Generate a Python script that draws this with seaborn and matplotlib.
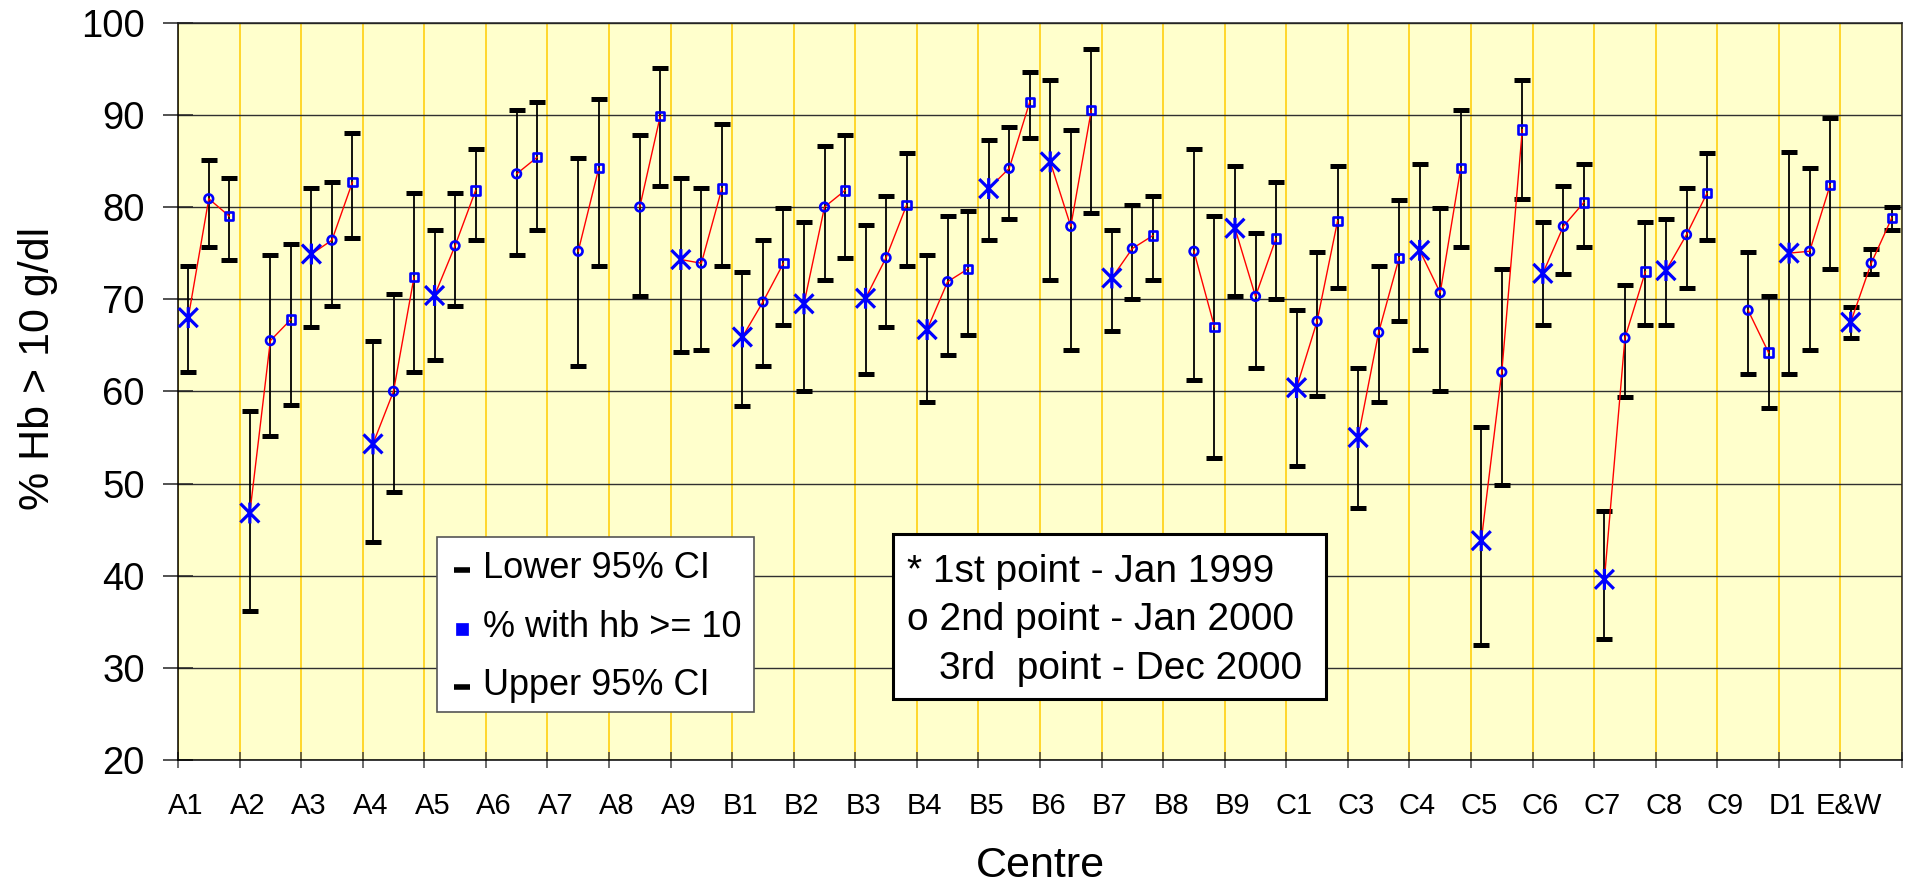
import numpy as np
import pandas as pd
import matplotlib
matplotlib.use("Agg")
import matplotlib.pyplot as plt
from matplotlib.path import Path
from matplotlib.patches import Rectangle
import seaborn as sns

nan = np.nan

centres = ['A1', 'A2', 'A3', 'A4', 'A5', 'A6', 'A7', 'A8', 'A9', 'B1', 'B2', 'B3',
           'B4', 'B5', 'B6', 'B7', 'B8', 'B9', 'C1', 'C3', 'C4', 'C5', 'C6', 'C7',
           'C8', 'C9', 'D1', 'E&W']

# 1st point - Jan 1999
pct_jan1999 = [68.0, 46.8, 74.9, 54.3, 70.4, nan, nan, nan, 74.3, 65.9, 69.5, 70.1,
               66.7, 82.0, 84.9, 72.3, nan, 77.7, 60.4, 55.0, 75.3, 43.8, 72.8, 39.6,
               73.1, nan, 75.0, 67.5]
low_jan1999 = [62.1, 36.2, 67.0, 43.7, 63.4, nan, nan, nan, 64.3, 58.4, 60.0, 61.9,
               58.8, 76.4, 72.1, 66.6, nan, 70.3, 51.9, 47.3, 64.5, 32.5, 67.2, 33.1,
               67.2, nan, 61.9, 65.8]
upp_jan1999 = [73.6, 57.9, 82.1, 65.5, 77.5, nan, nan, nan, 83.2, 73.0, 78.4, 78.1,
               74.8, 87.3, 93.8, 77.5, nan, 84.5, 68.8, 62.5, 84.7, 56.1, 78.4, 47.0,
               78.7, nan, 86.0, 69.1]

# 2nd point - Jan 2000
pct_jan2000 = [80.9, 65.5, 76.4, 60.0, 75.8, 83.6, 75.2, 80.0, 73.9, 69.7, 80.0, 74.5,
               71.9, 84.2, 77.9, 75.5, 75.2, 70.3, 67.6, 66.4, 70.7, 62.1, 77.9, 65.8,
               77.0, 68.8, 75.2, 73.9]
low_jan2000 = [75.7, 55.2, 69.3, 49.1, 69.3, 74.8, 62.8, 70.3, 64.5, 62.8, 72.1, 67.0,
               63.9, 78.7, 64.5, 70.0, 61.2, 62.5, 59.5, 58.8, 60.0, 49.8, 72.7, 59.4,
               71.2, 61.9, 64.5, 72.7]
upp_jan2000 = [85.1, 74.8, 82.7, 70.6, 81.5, 90.5, 85.3, 87.8, 82.1, 76.4, 86.6, 81.2,
               79.0, 88.7, 88.4, 80.2, 86.3, 77.2, 75.1, 73.6, 79.9, 73.3, 82.3, 71.5,
               82.1, 75.1, 84.2, 75.4]

# 3rd point - Dec 2000
pct_dec2000 = [79.0, 67.8, 82.7, 72.4, 81.8, 85.4, 84.2, 89.9, 82.0, 73.9, 81.8, 80.2,
               73.3, 91.4, 90.5, 76.9, 67.0, 76.6, 78.5, 74.5, 84.2, 88.4, 80.5, 73.0,
               81.5, 64.2, 82.4, 78.8]
low_dec2000 = [74.2, 58.5, 76.6, 62.1, 76.4, 77.5, 73.6, 82.3, 73.6, 67.2, 74.5, 73.6,
               66.1, 87.5, 79.4, 72.1, 52.8, 70.0, 71.2, 67.6, 75.7, 80.9, 75.7, 67.2,
               76.4, 58.2, 73.3, 77.5]
upp_dec2000 = [83.2, 76.0, 88.0, 81.5, 86.3, 91.4, 91.7, 95.1, 89.0, 79.9, 87.8, 85.9,
               79.6, 94.7, 97.1, 81.2, 79.0, 82.7, 84.5, 80.8, 90.5, 93.8, 84.7, 78.4,
               85.9, 70.3, 89.7, 80.0]

point_labels = ['Jan 1999', 'Jan 2000', 'Dec 2000']
ytick_values = [20, 30, 40, 50, 60, 70, 80, 90, 100]
legend1_labels = ['Lower 95% CI', '% with hb >= 10', 'Upper 95% CI']
legend2_lines = ['* 1st point - Jan 1999', 'o 2nd point - Jan 2000', '3rd  point - Dec 2000']
x_title = 'Centre'
y_title = '% Hb > 10 g/dl'

series = [(pct_jan1999, low_jan1999, upp_jan1999),
          (pct_jan2000, low_jan2000, upp_jan2000),
          (pct_dec2000, low_dec2000, upp_dec2000)]

rows = []
for g, c in enumerate(centres):
    for p, (pc, lo, up) in enumerate(series):
        if not np.isnan(pc[g]):
            rows.append(dict(centre=c, point=point_labels[p], x=3 * g + p,
                             pct=pc[g], lower=lo[g], upper=up[g]))
df = pd.DataFrame(rows)

plt.rcParams['font.family'] = ['Liberation Sans', 'DejaVu Sans']

W, H = 1910, 883
L, R, T, B = 178, 1902, 22.7, 760
fig = plt.figure(figsize=(W / 100, H / 100), dpi=100)
ax = fig.add_axes([L / W, 1 - B / H, (R - L) / W, (B - T) / H])
ax.set_facecolor('#FFFFCC')


def axx(px):
    return (px - L) / (R - L)


def axy(py):
    return (B - py) / (B - T)


n = len(centres)
bounds = np.arange(n + 1) * 3 - 0.5
ax.set_xlim(-0.5, 3 * n - 0.5)
ax.set_ylim(ytick_values[0], ytick_values[-1])

ax.set_axisbelow(True)

# high-low lines
ax.vlines(df['x'], df['lower'], df['upper'], color='black', lw=1.3, zorder=2)

# CI caps
caps = pd.concat([df[['x', 'lower']].rename(columns={'lower': 'v'}),
                  df[['x', 'upper']].rename(columns={'upper': 'v'})], ignore_index=True)
sns.scatterplot(data=caps, x='x', y='v', marker='_', s=11 ** 2, color='black',
                linewidth=3.6, ax=ax, zorder=3, legend=False)

# red connecting lines within each centre
sns.lineplot(data=df, x='x', y='pct', units='centre', estimator=None, color='#FF0000',
             lw=1.0, ax=ax, zorder=4, legend=False)

# point markers
asterisk = Path([(-1, -1), (1, 1), (-1, 1), (1, -1), (0, -1.1), (0, 1.1)],
                [Path.MOVETO, Path.LINETO] * 3)
marker_map = {'Jan 1999': asterisk, 'Jan 2000': 'o', 'Dec 2000': 's'}
size_map = {'Jan 1999': 15 ** 2, 'Jan 2000': 6.2 ** 2, 'Dec 2000': 6.0 ** 2}
lw_map = {'Jan 1999': 2.3, 'Jan 2000': 1.9, 'Dec 2000': 1.9}
for lab in point_labels:
    sub = df[df['point'] == lab]
    sns.scatterplot(data=sub, x='x', y='pct', marker=marker_map[lab], s=size_map[lab],
                    color='#0000FF', facecolor='none', edgecolor='#0000FF',
                    linewidth=lw_map[lab], ax=ax, zorder=5, legend=False)

# axes, ticks, grid
ax.set_xticks(bounds)
ax.set_xticklabels([])
ax.set_xticks(np.arange(n) * 3 - 0.11, minor=True)
ax.set_xticklabels(centres, minor=True, fontsize=21)
ax.set_yticks(ytick_values)
ax.set_yticklabels([str(v) for v in ytick_values], fontsize=27.5)
ax.tick_params(axis='x', which='major', direction='inout', length=11.5, width=1.1, color='#444444')
ax.tick_params(axis='x', which='minor', length=0, pad=22.8)
ax.tick_params(axis='y', direction='inout', length=21, width=1.1, color='#222222', pad=13.3)
ax.grid(axis='x', which='major', color='#FFCC00', lw=1.1)
ax.grid(axis='y', color='#303030', lw=1.0)
for s in ax.spines.values():
    s.set_color('#222222')
    s.set_linewidth(1.1)
ax.spines['left'].set_color('black')
ax.spines['bottom'].set_color('black')

ax.set_xlabel(x_title, fontsize=31)
ax.xaxis.set_label_coords(0.5, -0.117)
ax.set_ylabel(y_title, fontsize=31)
ax.yaxis.set_label_coords(axx(58), axy(368))

# legend 1 (series key)
ax.add_patch(Rectangle((axx(437), axy(712)), (754 - 437) / (R - L), (712 - 537) / (B - T),
                       transform=ax.transAxes, facecolor='white', edgecolor='#555555',
                       lw=1.2, zorder=10, clip_on=False))
rows_y = [(570, 578), (629, 637), (687, 695)]
handles = [dict(marker='_', ms=11, mew=4, color='black'),
           dict(marker='s', ms=8.4, mew=0.5, color='#0000FF'),
           dict(marker='_', ms=11, mew=4, color='black')]
for (my, by), lab, hd in zip(rows_y, legend1_labels, handles):
    ax.plot([axx(462)], [axy(my)], transform=ax.transAxes, clip_on=False, zorder=11,
            ls='none', **hd)
    ax.text(axx(483), axy(by), lab, transform=ax.transAxes, fontsize=26,
            va='baseline', ha='left', zorder=11)

# legend 2 (text box)
ax.add_patch(Rectangle((axx(893), axy(699)), (1326 - 893) / (R - L), (699 - 534) / (B - T),
                       transform=ax.transAxes, facecolor='white', edgecolor='black',
                       lw=2.2, zorder=10, clip_on=False))
for (tx, ty), line in zip([(907, 581.7), (907, 630), (939, 679.3)], legend2_lines):
    ax.text(axx(tx), axy(ty), line, transform=ax.transAxes, fontsize=28,
            va='baseline', ha='left', zorder=11)

fig.savefig('out.png', dpi=100, facecolor='white')
